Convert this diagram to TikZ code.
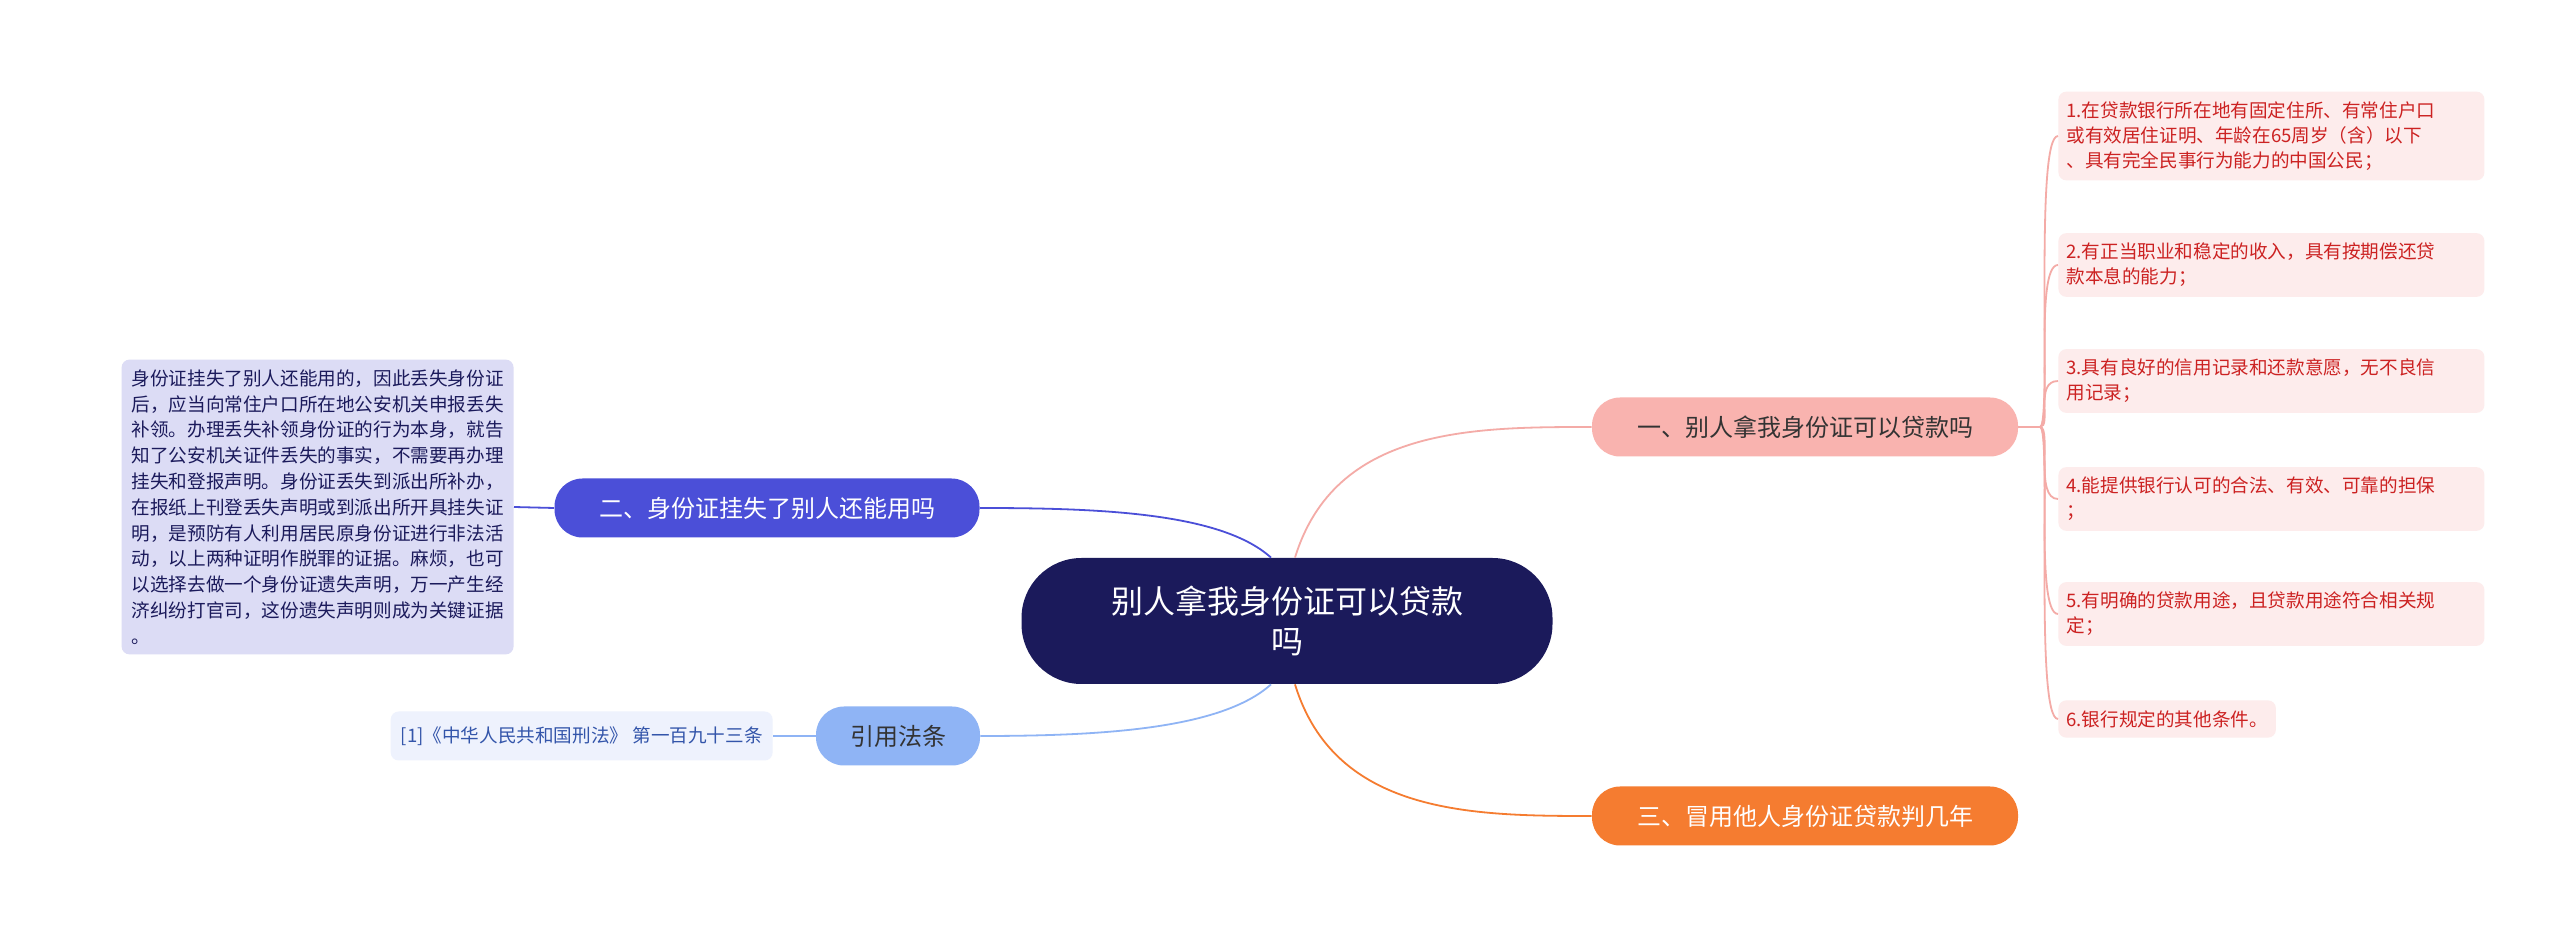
\documentclass[tikz,border=0pt]{standalone}
\usepackage{fontspec}
\setmainfont{Noto Sans CJK SC}
\usetikzlibrary{positioning}
\definecolor{rootfill}{HTML}{1B1A5B}
\definecolor{pinkfill}{HTML}{F9B3AF}
\definecolor{pinkline}{HTML}{F4ABA7}
\definecolor{leaffill}{HTML}{FDECEC}
\definecolor{leaftext}{HTML}{CC2222}
\definecolor{orangefill}{HTML}{F57C30}
\definecolor{purplefill}{HTML}{4B4FD8}
\definecolor{notefill}{HTML}{DCDCF5}
\definecolor{notetext}{HTML}{1B1A5B}
\definecolor{reffill}{HTML}{8FB4F5}
\definecolor{citefill}{HTML}{EEF2FD}
\definecolor{citetext}{HTML}{3355AA}
\begin{document}
\begin{tikzpicture}[x=0.5pt,y=-0.5pt,
  branch/.style={rounded corners=14pt, minimum height=29.5pt, inner xsep=8pt, font=\fontsize{12}{14}\selectfont},
  leafbox/.style={fill=leaffill, text=leaftext, rounded corners=4pt, anchor=west, align=left,
    inner xsep=4pt, inner ysep=5pt, font=\fontsize{9.3}{12.5}\selectfont},
  pinkedge/.style={draw=pinkline, line width=0.9pt}]
  \fill[white] (0,0) rectangle (2560,929);
  % centre
  \node[fill=rootfill, text=white, rounded corners=30pt, minimum width=265.5pt, minimum height=63pt,
    align=center, font=\fontsize{16}{20}\selectfont] (root) at (1287,621) {别人拿我身份证可以贷款\\吗};
  % branches
  \node[branch, fill=pinkfill, text=black!80, minimum width=213pt] (b1) at (1805,427) {一、别人拿我身份证可以贷款吗};
  \node[branch, fill=orangefill, text=white, minimum width=213pt] (b3) at (1805,816) {三、冒用他人身份证贷款判几年};
  \node[branch, fill=purplefill, text=white, minimum width=212.5pt] (b2) at (767,508) {二、身份证挂失了别人还能用吗};
  \node[branch, fill=reffill, text=black!80, minimum width=82pt] (b4) at (898,736) {引用法条};
  % left notes
  \node[fill=notefill, text=notetext, rounded corners=4pt, anchor=east, align=left, inner sep=5pt,
    font=\fontsize{9.3}{12.9}\selectfont] (note) at (514,507)
    {身份证挂失了别人还能用的，因此丢失身份证\\后，应当向常住户口所在地公安机关申报丢失\\补领。办理丢失补领身份证的行为本身，就告\\知了公安机关证件丢失的事实，不需要再办理\\挂失和登报声明。身份证丢失到派出所补办，\\在报纸上刊登丢失声明或到派出所开具挂失证\\明，是预防有人利用居民原身份证进行非法活\\动，以上两种证明作脱罪的证据。麻烦，也可\\以选择去做一个身份证遗失声明，万一产生经\\济纠纷打官司，这份遗失声明则成为关键证据\\。};
  \node[fill=citefill, text=citetext, rounded corners=4pt, anchor=east, inner xsep=5pt, minimum height=24.5pt,
    font=\fontsize{9.3}{12}\selectfont] (cite) at (773,736) {[1]《中华人民共和国刑法》 第一百九十三条};
  % right leaves
  \node[leafbox, text width=205pt] (l1) at (2058,136) {1.在贷款银行所在地有固定住所、有常住户口\\或有效居住证明、年龄在65周岁（含）以下\\、具有完全民事行为能力的中国公民；};
  \node[leafbox, text width=205pt] (l2) at (2058,265) {2.有正当职业和稳定的收入，具有按期偿还贷\\款本息的能力；};
  \node[leafbox, text width=205pt] (l3) at (2058,381) {3.具有良好的信用记录和还款意愿，无不良信\\用记录；};
  \node[leafbox, text width=205pt] (l4) at (2058,499) {4.能提供银行认可的合法、有效、可靠的担保\\；};
  \node[leafbox, text width=205pt] (l5) at (2058,614) {5.有明确的贷款用途，且贷款用途符合相关规\\定；};
  \node[leafbox] (l6) at (2058,719) {6.银行规定的其他条件。};
  \coordinate (fork) at (2040,427);
  % connectors
  \draw[pinkedge] ([xshift=4pt]root.north) .. controls +(40,-130) and +(-120,0) .. (b1.west);
  \draw[draw=orangefill, line width=0.9pt] ([xshift=4pt]root.south) .. controls +(40,130) and +(-120,0) .. (b3.west);
  \draw[draw=purplefill, line width=0.9pt] ([xshift=-8pt]root.north) .. controls +(-50,-45) and +(120,0) .. (b2.east);
  \draw[draw=reffill, line width=0.9pt] ([xshift=-8pt]root.south) .. controls +(-50,45) and +(120,0) .. (b4.east);
  \draw[draw=purplefill, line width=0.9pt] (b2.west) -- (note.east);
  \draw[draw=reffill, line width=0.9pt] (b4.west) -- (cite.east);
  \draw[pinkedge] (b1.east) -- (fork);
  \foreach \leaf in {l1,l2,l3,l4,l5,l6}
    \draw[pinkedge] (fork) .. controls +(12,0) and ([xshift=-12pt]\leaf.west) .. (\leaf.west);
\end{tikzpicture}
\end{document}
